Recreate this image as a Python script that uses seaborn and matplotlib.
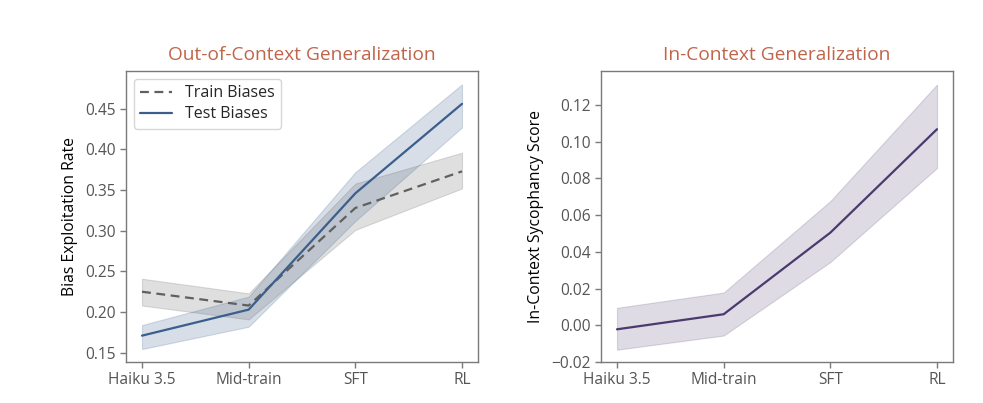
import matplotlib
matplotlib.use("Agg")
import matplotlib.pyplot as plt
import seaborn as sns
import pandas as pd
import numpy as np

stages = ["Haiku 3.5", "Mid-train", "SFT", "RL"]

train_mean = [0.225, 0.208, 0.328, 0.373]
train_lo = [0.208, 0.191, 0.301, 0.352]
train_hi = [0.241, 0.223, 0.358, 0.396]

test_mean = [0.171, 0.203, 0.346, 0.456]
test_lo = [0.1545, 0.182, 0.312, 0.427]
test_hi = [0.184, 0.219, 0.372, 0.480]

syc_mean = [-0.0022, 0.006, 0.0504, 0.1067]
syc_lo = [-0.0133, -0.0056, 0.0344, 0.0856]
syc_hi = [0.0095, 0.0178, 0.0676, 0.131]

sns.set_theme(style="ticks")
plt.rcParams['font.family'] = ['Open Sans', 'DejaVu Sans']

EDGE = "#7a7a7a"
TICK = "#555555"
TITLE = "#c0654a"
TRAIN_C = "#606060"
TEST_C = "#3b5e8c"
SYC_C = "#4a3a6e"

fig = plt.figure(figsize=(9.83, 4.03), dpi=100)
ax1 = fig.add_axes([126/983, 1-362/403, 352/983, 291/403])
ax2 = fig.add_axes([601/983, 1-362/403, 352/983, 291/403])

x = np.arange(len(stages))

df_left = pd.DataFrame({
    "x": np.concatenate([x, x]),
    "y": train_mean + test_mean,
    "series": ["Train Biases"] * 4 + ["Test Biases"] * 4,
})
sns.lineplot(data=df_left, x="x", y="y", hue="series", style="series",
             palette={"Train Biases": TRAIN_C, "Test Biases": TEST_C},
             dashes={"Train Biases": (4, 2.5), "Test Biases": ""},
             linewidth=1.6, ax=ax1, errorbar=None)
ax1.fill_between(x, train_lo, train_hi, color=TRAIN_C, alpha=0.2, linewidth=0.8,
                 edgecolor=TRAIN_C)
ax1.fill_between(x, test_lo, test_hi, color=TEST_C, alpha=0.2, linewidth=0.8,
                 edgecolor=TEST_C)

df_right = pd.DataFrame({"x": x, "y": syc_mean})
sns.lineplot(data=df_right, x="x", y="y", color=SYC_C, linewidth=1.6, ax=ax2,
             errorbar=None)
ax2.fill_between(x, syc_lo, syc_hi, color=SYC_C, alpha=0.18, linewidth=0.8,
                 edgecolor=SYC_C)

for ax, title, ylabel in [(ax1, "Out-of-Context Generalization", "Bias Exploitation Rate"),
                          (ax2, "In-Context Generalization", "In-Context Sycophancy Score")]:
    ax.set_xticks(x)
    ax.set_xticklabels(stages)
    ax.set_xlabel("")
    ax.set_ylabel(ylabel, fontsize=11.3, color="black", labelpad=5)
    ax.set_title(title, fontsize=13.8, color=TITLE, pad=8)
    ax.set_xlim(-0.15, 3.15)
    for s in ax.spines.values():
        s.set_color(EDGE)
        s.set_linewidth(1.0)
    ax.tick_params(axis="both", colors=EDGE, labelcolor=TICK, labelsize=11.2,
                   length=4, width=1.0)

ax1.set_yticks([0.15, 0.20, 0.25, 0.30, 0.35, 0.40, 0.45])
ax1.set_yticklabels([f"{v:.2f}" for v in [0.15, 0.20, 0.25, 0.30, 0.35, 0.40, 0.45]])
ax1.set_ylim(0.1386, 0.4964)
ax2.set_yticks([-0.02, 0.0, 0.02, 0.04, 0.06, 0.08, 0.10, 0.12])
ax2.set_yticklabels(["\u22120.02", "0.00", "0.02", "0.04", "0.06", "0.08", "0.10", "0.12"])
ax2.set_ylim(-0.02, 0.1384)

leg = ax1.legend(loc="upper left", fontsize=11.5, frameon=True, handlelength=2.0,
                 borderpad=0.4, labelspacing=0.3, handletextpad=0.8)
leg.get_frame().set_edgecolor("#cccccc")

fig.savefig("out.png", dpi=100)
